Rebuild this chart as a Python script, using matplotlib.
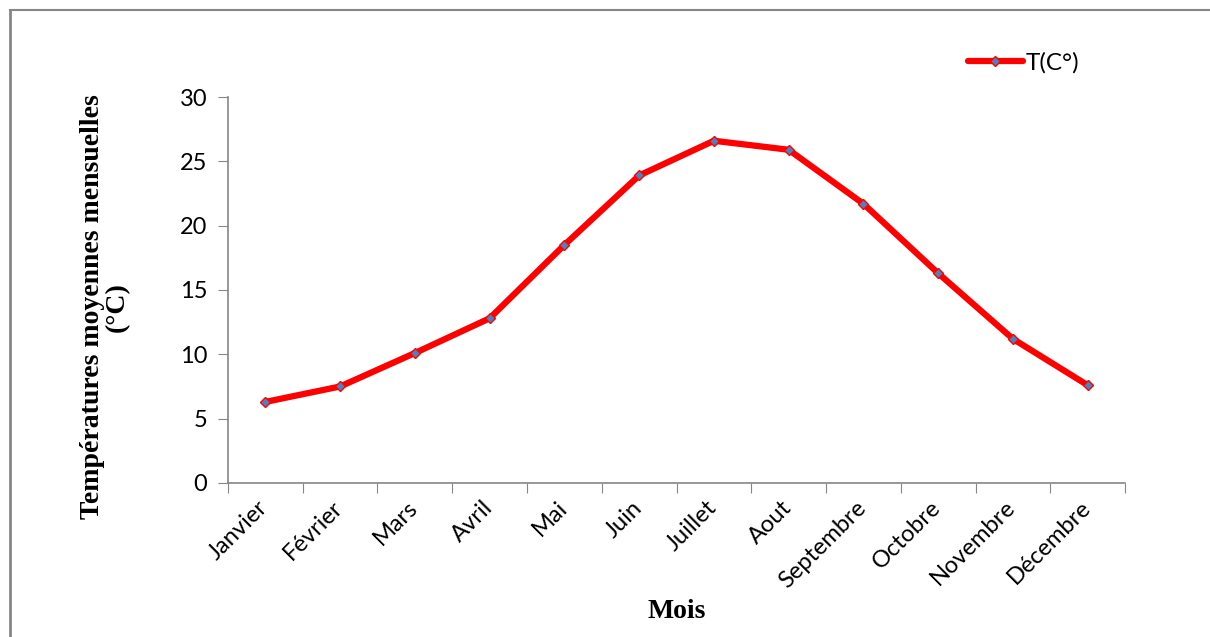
import matplotlib.pyplot as plt
import matplotlib.transforms as mtransforms
from matplotlib.lines import Line2D

mois = ['Janvier', 'Février', 'Mars', 'Avril', 'Mai', 'Juin', 'Juillet',
        'Aout', 'Septembre', 'Octobre', 'Novembre', 'Décembre']
temperatures = [6.3, 7.5, 10.1, 12.8, 18.5, 23.9, 26.6, 25.9, 21.7, 16.3, 11.2, 7.6]
y_ticks = [0, 5, 10, 15, 20, 25, 30]

plt.rcParams['font.family'] = ['Lato', 'DejaVu Sans']

fig = plt.figure(figsize=(12.1, 6.37), dpi=100)
ax = fig.add_axes([0.1884, 0.2418, 0.7414, 0.6059])

x = list(range(len(mois)))
ax.plot(x, temperatures, color='#ff0000', linewidth=4.5, solid_joinstyle='round',
        solid_capstyle='round', marker='D', markersize=5,
        markerfacecolor='#4f81bd', markeredgecolor='#ff0000', markeredgewidth=1,
        label='T(C°)')

ax.set_xlim(-0.5, len(mois) - 0.5)
ax.set_ylim(0, 30)
ax.set_yticks(y_ticks)
ax.set_xticks([i - 0.5 for i in range(len(mois) + 1)])
ax.set_xticklabels([])
ax.set_xticks(x, minor=True)
ax.set_xticklabels(mois, minor=True, rotation=45, ha='right', rotation_mode='anchor',
                   fontsize=17)
ax.tick_params(axis='x', which='minor', length=0, pad=10)
ax.tick_params(axis='x', which='major', direction='out', length=7, color='#868686')
ax.tick_params(axis='y', direction='out', length=7, color='#868686', labelsize=17, pad=8)

# nudge month labels slightly left so they end under their point
shift = mtransforms.ScaledTranslation(-8 / 100, 0, fig.dpi_scale_trans)
for lbl in ax.get_xticklabels(minor=True):
    lbl.set_transform(lbl.get_transform() + shift)

for side in ['top', 'right']:
    ax.spines[side].set_visible(False)
for side in ['left', 'bottom']:
    ax.spines[side].set_color('#868686')
    ax.spines[side].set_linewidth(1.2)

ax.set_ylabel('Températures moyennes mensuelles\n(°C)', family='Liberation Serif',
              fontweight='bold', fontsize=20, linespacing=1.0)
ax.yaxis.set_label_coords(-0.109, 0.456)
ax.set_xlabel('Mois', family='Liberation Serif', fontweight='bold', fontsize=20)
ax.xaxis.set_label_coords(0.5, -0.3)

ax.legend(loc='upper left', bbox_to_anchor=(0.80, 1.173), frameon=False, fontsize=17.5,
          handlelength=2.3, handletextpad=0.1)

# outer frame (left and top edges)
fig.add_artist(Line2D([0.0083, 0.0083], [0.0, 0.984], transform=fig.transFigure,
                      color='#868686', linewidth=2))
fig.add_artist(Line2D([0.0083, 1.0], [0.984, 0.984], transform=fig.transFigure,
                      color='#868686', linewidth=1.5))

fig.savefig('out.png', dpi=100)
